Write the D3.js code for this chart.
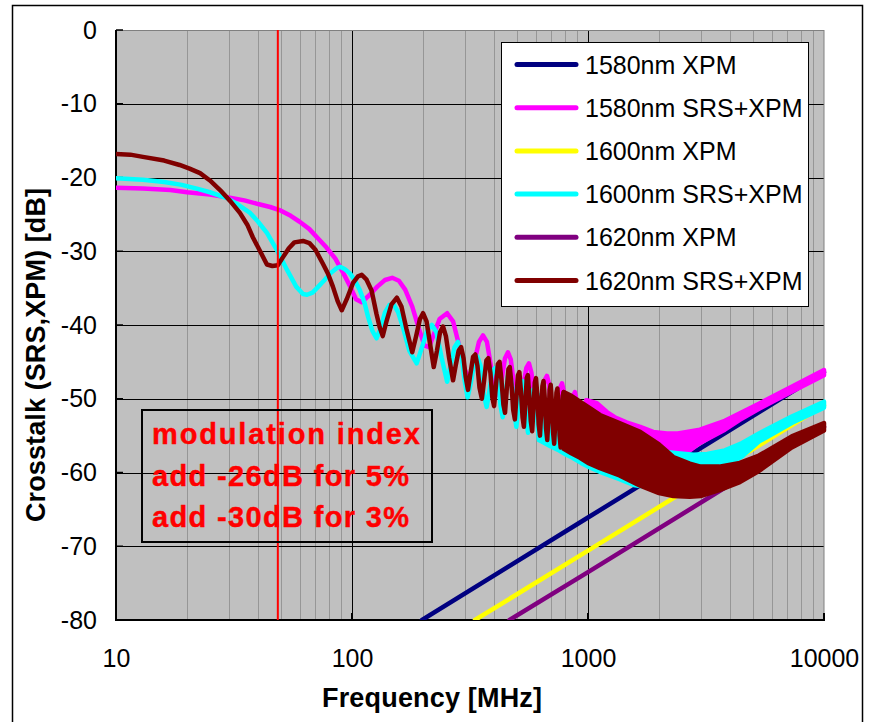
<!DOCTYPE html>
<html><head><meta charset="utf-8">
<script src="https://d3js.org/d3.v7.min.js"></script>
<style>body{margin:0;background:#fff}svg{display:block}text{font-family:"Liberation Sans",Arial,sans-serif}</style>
</head><body><svg id="c" width="870" height="722"></svg>
<script>
// ---------------- data ----------------
const xTicks = [10, 100, 1000, 10000];
const yTicks = [0, -10, -20, -30, -40, -50, -60, -70, -80];
const markerFreq = 48.5;
const seriesNames = ["1580nm XPM","1580nm SRS+XPM","1600nm XPM","1600nm SRS+XPM","1620nm XPM","1620nm SRS+XPM"];
const seriesColors = ["#000080","#FF00FF","#FFFF00","#00FFFF","#800080","#800000"];
const noteLines = ["modulation index","add -26dB for 5%","add -30dB for 3%"];

const xpm1580 = [[198,-80],[1000,-66.1],[10000,-46.4]];
const xpm1600 = [[332,-80],[1000,-70.6],[10000,-50.9]];
const xpm1620 = [[465,-80],[1000,-73.5],[10000,-53.8]];

const srs1580 = [[10,-21.4],[13,-21.5],[17,-21.7],[20,-22.0],[25,-22.3],[30,-22.7],[35,-23.1],[40,-23.6],[45,-24.0],[50,-24.5],[55,-25.2],[60,-26.0],[66,-27.0],[72,-28.3],[78,-29.5],[85,-31.0],[92,-33.0],[98,-34.7],[104,-36.5],[110,-36.9],[118,-36.0],[128,-34.8],[138,-33.9],[148,-33.6],[158,-34.0],[168,-35.2],[180,-37.5],[192,-40.5],[203,-42.8],[212,-43.0],[222,-41.3],[235,-39.2],[253,-38.4],[268,-39.5],[283,-42.5],[300,-46.0],[314,-47.3],[330,-45.0],[345,-42.3],[359,-41.4],[373,-42.3],[390,-46],[410,-49.5],[430,-47.5],[445,-44.5],[458,-43.7],[471,-44.7],[490,-49],[512,-51.5],[530,-48.5],[548,-45.8],[562,-45.2],[576,-46.5],[595,-50.5],[615,-53],[635,-50],[655,-47.5],[670,-46.9],[684,-48],[700,-52],[720,-54.5],[740,-52],[762,-48.5],[776,-47.9],[790,-49],[805,-53],[825,-55.5],[845,-53],[868,-49.5],[880,-49.1],[893,-50.2],[910,-54],[930,-56.5],[950,-54],[972,-50.8],[985,-50.2]];
// [freq, upper, lower] for the dense-ripple band
const srs1580Band = [[985,-50.2,-57.0],[1091,-50.6,-57.3],[1203,-51.8,-57.6],[1298,-52.5,-57.8],[1455,-53.2,-58.0],[1664,-53.8,-58.2],[1888,-54.5,-58.3],[2161,-54.7,-58.3],[2400,-54.7,-57.8],[2620,-54.5,-57.3],[2980,-54.2,-56.0],[3800,-53.0,-54.2],[4380,-52.0,-52.9],[5350,-50.6,-51.3],[7360,-48.3,-49.0],[10000,-46.1,-46.8]];

const srs1600 = [[10,-20.1],[13,-20.3],[16,-20.6],[19,-21.0],[22,-21.5],[25,-22.0],[29.5,-22.8],[33,-23.7],[37,-24.8],[40,-26.0],[43.6,-27.5],[48,-29.8],[53,-32.5],[58,-34.8],[62,-35.8],[64.5,-35.9],[68,-35.6],[71,-35.0],[76,-34.0],[81,-33.0],[86,-32.3],[89,-32.1],[93,-32.4],[98,-33.0],[103,-34.0],[108,-35.3],[113,-37.0],[117,-38.9],[122,-40.8],[127,-41.8],[132,-40.5],[138,-38.3],[144,-37.3],[150,-37.2],[157,-38.3],[165,-40.5],[175,-43.5],[188,-45.2],[198,-43],[208,-40.8],[218,-40.0],[228,-41],[240,-44.5],[253,-47.7],[262,-45.5],[272,-43],[281,-42.3],[290,-43.8],[300,-47.5],[309,-49.8],[318,-48],[330,-45],[340,-44.3],[350,-45.5],[362,-49.5],[372,-51.1],[382,-49],[394,-46.2],[405,-45.8],[416,-47.5],[426,-51],[435,-52.5],[445,-50],[457,-47],[467,-46.7],[478,-48.5],[488,-52],[497,-53.8],[507,-51],[518,-48],[528,-47.6],[539,-49.5],[548,-53],[557,-54.6],[567,-52],[580,-49],[592,-48.6],[604,-50.5],[613,-54],[620,-55.6]];
const srs1600Band = [[620,-49.5,-55.6],[690,-50.5,-56.4],[743,-51,-56.9],[810,-51.6,-57.6],[860,-52,-58.0],[935,-52.6,-58.7],[1000,-53.0,-59.2],[1160,-54.0,-60.1],[1360,-55.0,-60.9],[1560,-56.0,-61.7],[1800,-56.6,-62.0],[2100,-57.2,-61.8],[2400,-57.4,-61.3],[2800,-57.6,-60.7],[3200,-57.5,-60.0],[3800,-57.0,-59.2],[4500,-56.0,-57.8],[5300,-54.7,-55.8],[7300,-52.4,-53.3],[10000,-50.4,-51.2]];

const srs1620 = [[10,-16.8],[11.5,-16.9],[13,-17.2],[16,-17.7],[18.6,-18.3],[20.5,-18.8],[22.7,-19.4],[25,-20.4],[27.6,-21.7],[30.5,-23.2],[33.5,-24.8],[36,-26.4],[38,-28.1],[40.5,-29.8],[43.6,-31.8],[46,-32.0],[48.5,-31.9],[51,-30.8],[54,-29.6],[57,-28.8],[62,-28.6],[66,-28.9],[70,-29.8],[75,-31.6],[79,-33.0],[83,-34.8],[87,-36.8],[90.5,-38.0],[95,-36.5],[101,-34.3],[106,-33.4],[110,-33.2],[115,-33.8],[121,-35.3],[127,-38.5],[131,-40.3],[135,-41.5],[140,-39.5],[147,-37.2],[155,-36.3],[162,-37.5],[170,-40.5],[180,-43.7],[187,-41.5],[194,-39.2],[200,-38.4],[207,-39.5],[214,-42.5],[222,-45.7],[229,-43.5],[236,-41],[243,-40.2],[250,-41.5],[258,-44.5],[268,-47.5],[275,-45.5],[283,-43.5],[290,-43.0],[297,-44.5],[303,-47],[310,-48.8],[318,-46.5],[326,-44.3],[333,-44.0],[340,-45.5],[347,-48.5],[355,-50.0],[363,-47.5],[371,-44.8],[378,-44.5],[386,-46.5],[393,-49.8],[400,-51.0],[408,-48],[415,-45.3],[422,-45.0],[430,-47.5],[438,-50.8],[445,-51.9],[452,-49],[460,-46],[466,-45.7],[474,-48],[482,-51.5],[490,-52.8],[497,-50],[505,-46.8],[512,-46.4],[520,-49],[528,-52.5],[535,-53.8],[542,-51],[550,-47.2],[556,-46.8],[564,-49.5],[572,-53],[580,-54.4],[587,-51.5],[595,-47.8],[602,-47.2],[610,-49.5],[618,-53.5],[626,-55.0],[633,-52],[641,-48.3],[648,-47.6],[656,-50],[664,-54],[672,-55.6],[680,-52.5],[688,-48.8],[695,-48.1],[703,-50.5],[711,-54.5],[719,-56.1],[727,-53],[735,-49.2],[742,-48.6],[750,-51],[758,-55],[766,-56.6],[774,-53.5],[782,-49.6],[789,-49.1]];
const srs1620Band = [[789,-49.1,-56.8],[850,-49.6,-57.4],[925,-50.4,-58.0],[1000,-51.1,-58.7],[1124,-52.2,-59.4],[1360,-53.3,-60.4],[1664,-54.5,-61.8],[2000,-56.2,-62.8],[2300,-57.9,-63.2],[2700,-58.8,-63.3],[3000,-59.2,-63.2],[3600,-59.2,-62.4],[4400,-58.7,-61.3],[5300,-57.7,-59.8],[7300,-55.1,-56.6],[10000,-53.3,-54.3]];

// ---------------- layout ----------------
const svg = d3.select("#c");
const L = 116, R = 824, T = 30, B = 620;
const x = d3.scaleLog().domain([10, 10000]).range([L, R]);
const y = d3.scaleLinear().domain([-80, 0]).range([B, T]);
const FONT = '"Liberation Sans",Arial,sans-serif';
const SW = 4.5;

// outer frame
svg.append("rect").attr("x", 12.5).attr("y", 5.5).attr("width", 850).attr("height", 740)
  .attr("fill", "#fff").attr("stroke", "#000").attr("stroke-width", 1.5);

// plot background
svg.append("rect").attr("x", L).attr("y", T).attr("width", R - L).attr("height", B - T).attr("fill", "#C0C0C0");

// minor vertical grid
const minor = [];
for (let dec = 10; dec < 10000; dec *= 10) for (let k = 2; k <= 9; k++) minor.push(dec * k);
svg.append("g").selectAll("line").data(minor).join("line")
  .attr("x1", d => Math.round(x(d)) + 0.5).attr("x2", d => Math.round(x(d)) + 0.5)
  .attr("y1", T).attr("y2", B).attr("stroke", "#969696").attr("stroke-width", 1);
// major vertical grid
svg.append("g").selectAll("line").data([100, 1000]).join("line")
  .attr("x1", d => Math.round(x(d)) + 0.5).attr("x2", d => Math.round(x(d)) + 0.5)
  .attr("y1", T).attr("y2", B).attr("stroke", "#000").attr("stroke-width", 1);
// horizontal grid
svg.append("g").selectAll("line").data(yTicks.filter(v => v > -80 && v < 0)).join("line")
  .attr("x1", L).attr("x2", R).attr("y1", d => Math.round(y(d)) + 0.5).attr("y2", d => Math.round(y(d)) + 0.5)
  .attr("stroke", "#000").attr("stroke-width", 1);

// plot border
svg.append("rect").attr("x", L).attr("y", T + 0.5).attr("width", R - L).attr("height", B - T)
  .attr("fill", "none").attr("stroke", "#808080").attr("stroke-width", 1);
svg.append("line").attr("x1", L).attr("x2", L).attr("y1", T).attr("y2", B + 1).attr("stroke", "#000").attr("stroke-width", 2);
svg.append("line").attr("x1", L).attr("x2", R + 1).attr("y1", B).attr("y2", B).attr("stroke", "#000").attr("stroke-width", 2);
// inside ticks
svg.append("g").selectAll("line").data(yTicks).join("line")
  .attr("x1", L).attr("x2", L + 7).attr("y1", d => y(d)).attr("y2", d => y(d)).attr("stroke", "#000").attr("stroke-width", 1.5);
svg.append("g").selectAll("line").data(xTicks).join("line")
  .attr("x1", d => x(d)).attr("x2", d => x(d)).attr("y1", B).attr("y2", B - 7).attr("stroke", "#000").attr("stroke-width", 2);

// axes labels
const ya = svg.append("g").attr("transform", `translate(${L},0)`)
  .call(d3.axisLeft(y).tickValues(yTicks).tickSize(0).tickPadding(19).tickFormat(d => String(d)));
ya.select(".domain").remove();
ya.selectAll("text").attr("font-size", 25).attr("font-family", FONT).attr("fill", "#000");
const xa = svg.append("g").attr("transform", `translate(0,${B})`)
  .call(d3.axisBottom(x).tickValues(xTicks).tickSize(0).tickPadding(29).tickFormat(d => String(d)));
xa.select(".domain").remove();
xa.selectAll("text").attr("font-size", 25).attr("font-family", FONT).attr("fill", "#000");

// axis titles
svg.append("text").attr("x", 322).attr("y", 707).attr("font-size", 27).attr("font-weight", "bold")
  .attr("textLength", 220).attr("lengthAdjust", "spacing").text("Frequency [MHz]");
svg.append("text").attr("transform", "translate(45,355) rotate(-90)").attr("text-anchor", "middle")
  .attr("font-size", 27).attr("font-weight", "bold").attr("textLength", 334).attr("lengthAdjust", "spacing")
  .text("Crosstalk (SRS,XPM)  [dB]");

// curves
svg.append("clipPath").attr("id", "clip").append("rect").attr("x", L).attr("y", T - 3).attr("width", R - L + 4).attr("height", B - T + 3);
const plot = svg.append("g").attr("clip-path", "url(#clip)");
const line = d3.line().x(d => x(d[0])).y(d => y(d[1]));
const area = d3.area().x(d => x(d[0])).y1(d => y(d[1])).y0(d => y(d[2]));
function drawLine(data, color) {
  plot.append("path").attr("d", line(data)).attr("fill", "none").attr("stroke", color)
    .attr("stroke-width", SW).attr("stroke-linejoin", "round").attr("stroke-linecap", "round");
}
function drawBand(data, color) {
  plot.append("path").attr("d", area(data)).attr("fill", color).attr("stroke", color)
    .attr("stroke-width", SW).attr("stroke-linejoin", "round");
}
drawLine(xpm1580, seriesColors[0]);
drawLine(srs1580, seriesColors[1]); drawBand(srs1580Band, seriesColors[1]);
drawLine(xpm1600, seriesColors[2]);
drawLine(srs1600, seriesColors[3]); drawBand(srs1600Band, seriesColors[3]);
drawLine(xpm1620, seriesColors[4]);
drawLine(srs1620, seriesColors[5]); drawBand(srs1620Band, seriesColors[5]);

// marker line
svg.append("line").attr("x1", x(markerFreq)).attr("x2", x(markerFreq)).attr("y1", T).attr("y2", B)
  .attr("stroke", "#FF0000").attr("stroke-width", 2);

// annotation box
svg.append("rect").attr("x", 142).attr("y", 410).attr("width", 290).attr("height", 132)
  .attr("fill", "none").attr("stroke", "#000").attr("stroke-width", 2);
const noteLen = [268, 257, 257];
svg.append("g").selectAll("text").data(noteLines).join("text")
  .attr("x", 152).attr("y", (d, i) => 444 + i * 41.5).attr("font-size", 29).attr("font-weight", 700)
  .attr("fill", "#FF0000").attr("stroke", "#FF0000").attr("stroke-width", 0.4)
  .attr("textLength", (d, i) => noteLen[i]).attr("lengthAdjust", "spacing").text(d => d);

// legend
svg.append("rect").attr("x", 501.5).attr("y", 42.5).attr("width", 307).attr("height", 264)
  .attr("fill", "#fff").attr("stroke", "#000").attr("stroke-width", 1);
const lg = svg.append("g").selectAll("g").data(seriesNames).join("g")
  .attr("transform", (d, i) => `translate(0,${64.5 + i * 43.2})`);
lg.append("line").attr("x1", 517).attr("x2", 576).attr("y1", 0).attr("y2", 0)
  .attr("stroke", (d, i) => seriesColors[i]).attr("stroke-width", 5).attr("stroke-linecap", "round");
lg.append("text").attr("x", 585).attr("y", 9).attr("font-size", 25).attr("fill", "#000").text(d => d);
</script></body></html>
